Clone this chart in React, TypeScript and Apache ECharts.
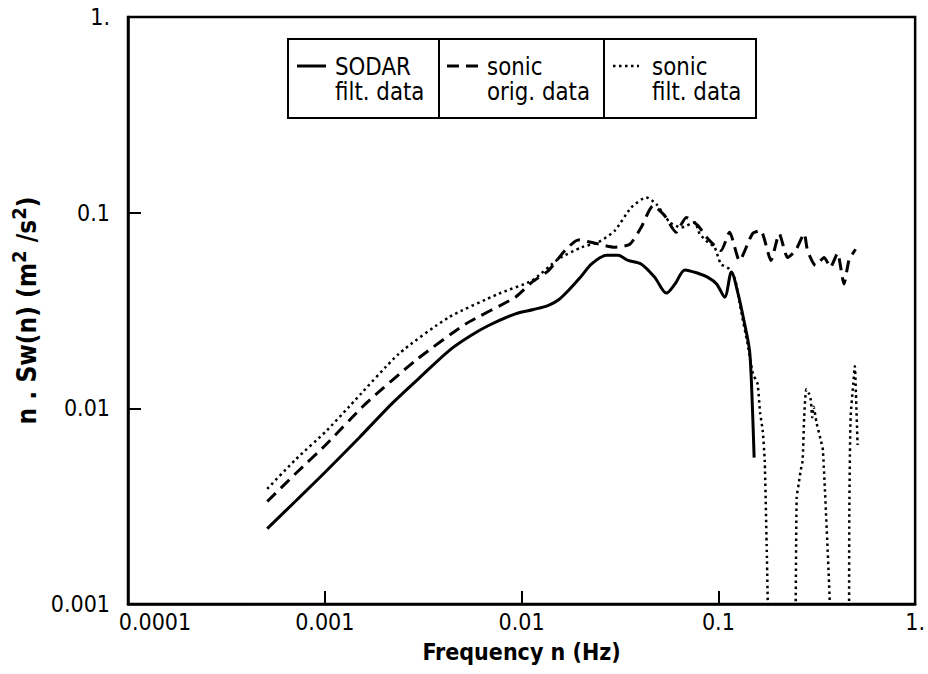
import React, { useEffect, useRef } from "react";
import * as echarts from "echarts";

// ---------- data ----------
const xTickLabels = ["0.0001", "0.001", "0.01", "0.1", "1."];
const yTickLabels = ["0.001", "0.01", "0.1", "1."];
const xAxisTitle = "Frequency n (Hz)";
const seriesNames = ["SODAR filt. data", "sonic orig. data", "sonic filt. data"];
const legendLine1 = ["SODAR", "sonic", "sonic"];
const legendLine2 = ["filt. data", "orig. data", "filt. data"];

const sodarFreq = [
  0.00051, 0.00072, 0.001, 0.0015, 0.0022, 0.003, 0.0043, 0.0055, 0.0068, 0.0093,
  0.0115, 0.0137, 0.0155, 0.0173, 0.02, 0.0227, 0.027, 0.031, 0.0348, 0.0405,
  0.0475, 0.0544, 0.0602, 0.0677, 0.0787, 0.0885, 0.098, 0.1077, 0.1165, 0.126,
  0.135, 0.144, 0.148, 0.152,
];
const sodarVal = [
  0.00243, 0.0034, 0.0047, 0.0071, 0.0106, 0.0142, 0.0198, 0.0235, 0.0265, 0.0304,
  0.032, 0.0336, 0.036, 0.04, 0.047, 0.0547, 0.0605, 0.0605, 0.057, 0.0547,
  0.0467, 0.0388, 0.0432, 0.051, 0.049, 0.0467, 0.0432, 0.037, 0.0497, 0.0385,
  0.028, 0.0198, 0.012, 0.0056,
];

const origFreq = [
  0.00051, 0.00072, 0.00101, 0.00162, 0.0029, 0.0052, 0.0093, 0.0113, 0.0137, 0.0166,
  0.0194, 0.0236, 0.0298, 0.0355, 0.0405, 0.0466, 0.0533, 0.061, 0.0687, 0.0787,
  0.0885, 0.103, 0.114, 0.128, 0.149, 0.164, 0.185, 0.204, 0.225, 0.247,
  0.273, 0.284, 0.312, 0.345, 0.371, 0.403, 0.435, 0.461, 0.498,
];
const origVal = [
  0.00334, 0.0047, 0.0065, 0.0106, 0.0176, 0.027, 0.037, 0.0442, 0.0506, 0.064,
  0.0726, 0.0698, 0.0666, 0.069, 0.084, 0.1086, 0.0966, 0.0795, 0.0946, 0.0859,
  0.0735, 0.064, 0.0795, 0.0569, 0.078, 0.081, 0.057, 0.078, 0.059, 0.064,
  0.078, 0.064, 0.0537, 0.059, 0.0526, 0.062, 0.0432, 0.057, 0.065,
];

const filtFreq = [
  0.00051, 0.000714, 0.00101, 0.00133, 0.00238, 0.00427, 0.00765, 0.0113, 0.0154, 0.0202,
  0.0245, 0.0298, 0.036, 0.043, 0.0484, 0.0566, 0.0648, 0.0758, 0.0804, 0.0885,
  0.0957, 0.103, 0.114, 0.122, 0.13, 0.14, 0.15, 0.158, 0.163, 0.168,
  0.172, 0.176, 0.182, 0.21, 0.243, 0.25, 0.256, 0.262, 0.268, 0.273,
  0.28, 0.29, 0.295, 0.3, 0.305, 0.315, 0.33, 0.34, 0.37, 0.375,
  0.42, 0.458, 0.463, 0.47, 0.485, 0.494, 0.5, 0.51,
];
const filtVal = [
  0.00388, 0.0055, 0.0076, 0.0102, 0.019, 0.0292, 0.0385, 0.045, 0.058, 0.0666,
  0.0706, 0.081, 0.106, 0.1197, 0.1107, 0.0893, 0.084, 0.0893, 0.0778, 0.0706,
  0.0666, 0.0547, 0.0515, 0.045, 0.032, 0.022, 0.015, 0.0134, 0.0095, 0.0077,
  0.0054, 0.002, 0.0005, 0.0001, 0.0004, 0.0035, 0.0041, 0.0048, 0.0054, 0.009,
  0.0125, 0.0118, 0.011, 0.009, 0.0102, 0.0085, 0.007, 0.0061, 0.0009, 0.0003,
  0.0001, 0.0004, 0.003, 0.009, 0.0134, 0.0164, 0.012, 0.0065,
];

const FONT = "'DejaVu Sans Condensed', 'DejaVu Sans', sans-serif";

const zip = (fs: number[], vs: number[]) => fs.map((f, i) => [f, vs[i]]);

export default function App() {
  const ref = useRef<HTMLDivElement>(null);

  useEffect(() => {
    if (!ref.current) return;
    const chart = echarts.init(ref.current, null, { renderer: "svg" });

    const boxX = 288, boxY = 39, boxW = 468, boxH = 79;
    const dividers = [439, 604];
    const sampleX = [[297, 326], [447, 481], [613, 639]];
    const textX = [335, 487, 652];
    const row1Y = 66, row2Y = 91;
    const dashes: any[] = [null, [12, 7], [2.5, 3.5]];

    const legendText = (t: string, x: number, y: number) => ({
      type: "text",
      x,
      y,
      scaleX: 0.95,
      style: { text: t, fill: "#000", font: `25px ${FONT}`, verticalAlign: "middle", align: "left" },
      z: 10,
    });

    const graphic: any[] = [
      {
        type: "rect",
        shape: { x: boxX, y: boxY, width: boxW, height: boxH },
        style: { fill: "none", stroke: "#000", lineWidth: 2 },
        z: 10,
      },
      ...dividers.map((dx) => ({
        type: "line",
        shape: { x1: dx, y1: boxY, x2: dx, y2: boxY + boxH },
        style: { stroke: "#000", lineWidth: 2 },
        z: 10,
      })),
      ...sampleX.map((sx, i) => ({
        type: "line",
        shape: { x1: sx[0], y1: row1Y, x2: sx[1], y2: row1Y },
        style: { stroke: "#000", lineWidth: i === 2 ? 2.5 : 3, lineDash: dashes[i] || undefined },
        z: 10,
      })),
      ...legendLine1.map((t, i) => legendText(t, textX[i], row1Y)),
      ...legendLine2.map((t, i) => legendText(t, textX[i], row2Y)),
    ];

    const axisCommon = {
      type: "log" as const,
      logBase: 10,
      axisLine: { show: true, lineStyle: { color: "#000", width: 2.5 } },
      axisTick: { show: true, inside: true, length: 13, lineStyle: { color: "#000", width: 2 } },
      minorTick: { show: false },
      splitLine: { show: false },
    };

    chart.setOption({
      animation: false,
      backgroundColor: "#fff",
      grid: {
        left: 128,
        right: 10,
        top: 17,
        bottom: 70,
        show: true,
        borderColor: "#000",
        borderWidth: 2.5,
        containLabel: false,
      },
      xAxis: {
        ...axisCommon,
        min: 0.0001,
        max: 1,
        name: xAxisTitle,
        nameLocation: "middle",
        nameGap: 36,
        nameTextStyle: { fontFamily: FONT, fontSize: 23, fontWeight: "bold", color: "#000" },
        axisLabel: {
          fontFamily: FONT,
          fontSize: 23,
          color: "#000",
          margin: 6,
          formatter: (v: number) => {
            const i = Math.round(Math.log10(v)) + 4;
            const s = xTickLabels[i] ?? "";
            return i === 0 ? `{first|${s}}` : s;
          },
          rich: {
            first: { fontFamily: FONT, fontSize: 23, color: "#000", padding: [0, 0, 0, 54] },
          },
        },
      },
      yAxis: {
        ...axisCommon,
        min: 0.001,
        max: 1,
        name: "n . Sw(n) (m{sup|2} /s{sup|2})",
        nameLocation: "middle",
        nameGap: 84,
        nameTextStyle: {
          fontFamily: FONT,
          fontSize: 26,
          fontWeight: "bold",
          color: "#000",
          rich: {
            sup: { fontFamily: FONT, fontSize: 20, fontWeight: "bold", color: "#000", padding: [0, 0, 15, 0] },
          },
        },
        axisLabel: {
          fontFamily: FONT,
          fontSize: 23,
          color: "#000",
          margin: 18,
          formatter: (v: number) => yTickLabels[Math.round(Math.log10(v)) + 3] ?? "",
        },
      },
      graphic,
      series: [
        {
          name: seriesNames[0],
          type: "line",
          data: zip(sodarFreq, sodarVal),
          showSymbol: false,
          smooth: 0.3,
          clip: true,
          lineStyle: { color: "#000", width: 3 },
        },
        {
          name: seriesNames[1],
          type: "line",
          data: zip(origFreq, origVal),
          showSymbol: false,
          smooth: 0.2,
          clip: true,
          lineStyle: { color: "#000", width: 3, type: [12, 7] },
        },
        {
          name: seriesNames[2],
          type: "line",
          data: zip(filtFreq, filtVal),
          showSymbol: false,
          smooth: 0.2,
          clip: true,
          lineStyle: { color: "#000", width: 2.5, type: [2.5, 3.5] },
        },
      ],
    });

    return () => chart.dispose();
  }, []);

  return (
    <div
      ref={ref}
      style={{ position: "fixed", left: 0, top: 0, width: 928, height: 674, background: "#fff" }}
    />
  );
}
